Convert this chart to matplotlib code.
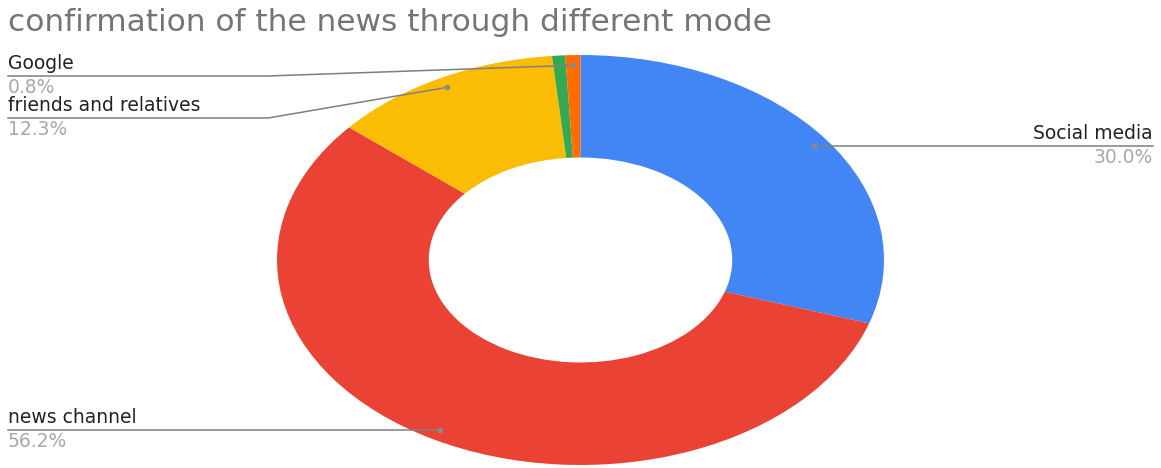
import numpy as np
import matplotlib
matplotlib.use("Agg")
import matplotlib.pyplot as plt

# share of respondents per source used to confirm the news
sources = ["Social media", "news channel", "friends and relatives", "other", "Google"]
shares = [30.0, 56.2, 12.3, 0.7, 0.8]
colors = ["#4285F4", "#EA4335", "#FBBC04", "#34A853", "#FF6D01"]
# which slices get a leader label, and on which side
labelled = {"Social media": "right", "news channel": "left",
            "friends and relatives": "left", "Google": "left"}

W, H = 1161, 468
fig = plt.figure(figsize=(W / 100, H / 100), dpi=100)
fig.patch.set_facecolor("white")

# donut geometry in pixels (the ring is drawn stretched sideways)
cx, cy = 580.5, 260.0
rx, ry = 303.5, 205.0

pie_ax = fig.add_axes([(cx - rx) / W, (H - cy - ry) / H, 2 * rx / W, 2 * ry / H])
wedges, _ = pie_ax.pie(shares, colors=colors, startangle=90, counterclock=False,
                       wedgeprops=dict(width=0.5, linewidth=0))
pie_ax.set_aspect("auto")
pie_ax.set_xlim(-1, 1)
pie_ax.set_ylim(-1, 1)
pie_ax.axis("off")

# overlay in pixel coordinates for title and leader lines
ax = fig.add_axes([0, 0, 1, 1])
ax.set_xlim(0, W)
ax.set_ylim(H, 0)
ax.axis("off")

ax.text(8, 31, "confirmation of the news through different mode", fontsize=22.5,
        color="#757575", va="baseline", ha="left", family="DejaVu Sans")

total = sum(shares)
line_col = "#7f7f7f"
fs = 13.5
# y of the horizontal part of each left-hand leader
left_rows = {"Google": 76, "friends and relatives": 118}
cum = 0.0
for name, val in zip(sources, shares):
    mid = 90 - (cum + val / 2) / total * 360
    cum += val
    if name not in labelled:
        continue
    a = np.deg2rad(mid)
    px = cx + rx * 0.95 * np.cos(a)
    py = cy - ry * 0.95 * np.sin(a)
    pct = f"{val / total * 100:.1f}%"
    if labelled[name] == "right":
        ly = py
        ax.plot([px, 1153], [ly, ly], color=line_col, lw=1.1)
        ax.text(1153, ly - 3, name, ha="right", va="bottom", fontsize=fs, color="#222222")
        ax.text(1153, ly + 2, pct, ha="right", va="top", fontsize=fs, color="#a8a8a8")
    else:
        if name in left_rows:
            ly = left_rows[name]
            ax.plot([px, 268, 8], [py, ly, ly], color=line_col, lw=1.1)
        else:
            ly = py
            ax.plot([px, 8], [ly, ly], color=line_col, lw=1.1)
        ax.text(8, ly - 3, name, ha="left", va="bottom", fontsize=fs, color="#222222")
        ax.text(8, ly + 2, pct, ha="left", va="top", fontsize=fs, color="#a8a8a8")
    ax.plot(px, py, "o", ms=4, color="#8a8a8a", mec="none")

fig.savefig("out.png", dpi=100, facecolor="white")
